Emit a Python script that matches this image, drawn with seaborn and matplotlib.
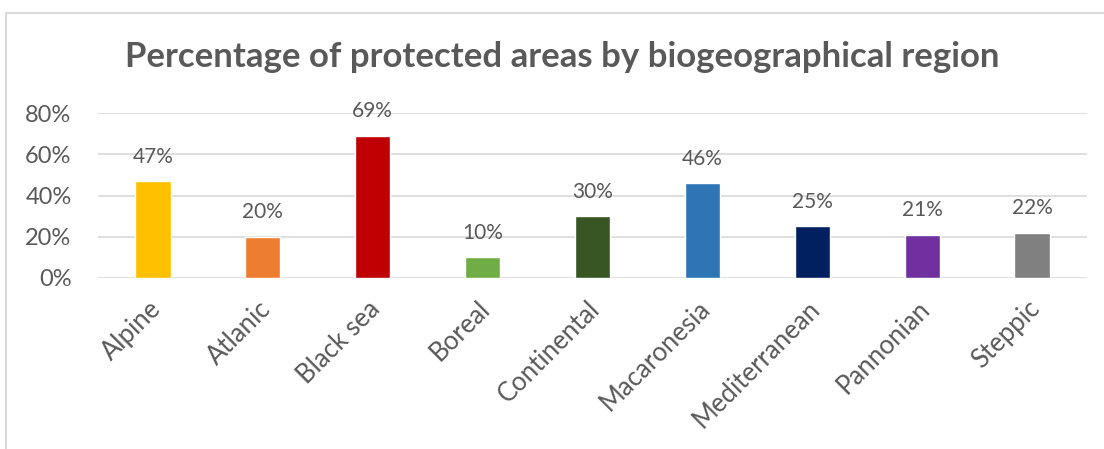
import matplotlib
matplotlib.use('Agg')
import matplotlib.pyplot as plt
import matplotlib.transforms as mtransforms
import seaborn as sns
import pandas as pd
from matplotlib.patches import Rectangle
from matplotlib.ticker import PercentFormatter

# Data
regions = ['Alpine', 'Atlanic', 'Black sea', 'Boreal', 'Continental',
           'Macaronesia', 'Mediterranean', 'Pannonian', 'Steppic']
shares = [0.47, 0.20, 0.69, 0.10, 0.30, 0.46, 0.25, 0.21, 0.22]
colors = ['#FFC000', '#ED7D31', '#C00000', '#70AD47', '#375623',
          '#2E75B6', '#002060', '#7030A0', '#808080']
yticks = [0, 0.2, 0.4, 0.6, 0.8]

sns.set_theme(style='white')
plt.rcParams['font.family'] = ['Lato', 'DejaVu Sans']
TXT = '#595959'

df = pd.DataFrame({'region': regions, 'share': shares})

fig = plt.figure(figsize=(11.04, 4.49), dpi=100)
ax = fig.add_axes([98 / 1104, 1 - 278 / 449, (1087 - 98) / 1104, (278 - 113) / 449])

sns.barplot(data=df, x='region', y='share', hue='region', palette=colors,
            legend=False, width=0.32, saturation=1, ax=ax)

ax.set_ylim(0, 0.8)
ax.set_xlim(-0.5, len(regions) - 0.5)
ax.set_yticks(yticks)
ax.yaxis.set_major_formatter(PercentFormatter(1.0, decimals=0))
ax.grid(axis='y', color='#d9d9d9', linewidth=1.2)
ax.set_axisbelow(True)
for s in ax.spines.values():
    s.set_visible(False)
ax.set_xlabel('')
ax.set_ylabel('')
ax.tick_params(axis='y', labelsize=17, colors=TXT, length=0, pad=19)
ax.tick_params(axis='x', labelsize=18.5, colors=TXT, length=0, pad=13)
shift = mtransforms.ScaledTranslation(-5 / 100, 0, fig.dpi_scale_trans)
for lab in ax.get_xticklabels():
    lab.set_rotation(45)
    lab.set_ha('right')
    lab.set_rotation_mode('anchor')
    lab.set_transform(lab.get_transform() + shift)

# value labels above bars
for i, v in enumerate(shares):
    ax.annotate(f'{v:.0%}', (i, v), xytext=(0, 17.5), textcoords='offset points',
                ha='center', va='center', fontsize=15, color=TXT,
                annotation_clip=False)

fig.text(562 / 1104, 1 - 57 / 449, 'Percentage of protected areas by biogeographical region',
         ha='center', va='center', fontsize=25, fontweight='bold', color=TXT)

# chart frame
fig.patches.append(Rectangle((6 / 1104, -0.1), 1.2, 1 - 13 / 449 + 0.1,
                             transform=fig.transFigure, fill=False,
                             edgecolor='#d9d9d9', linewidth=1.5))

fig.savefig('out.png', dpi=100)
